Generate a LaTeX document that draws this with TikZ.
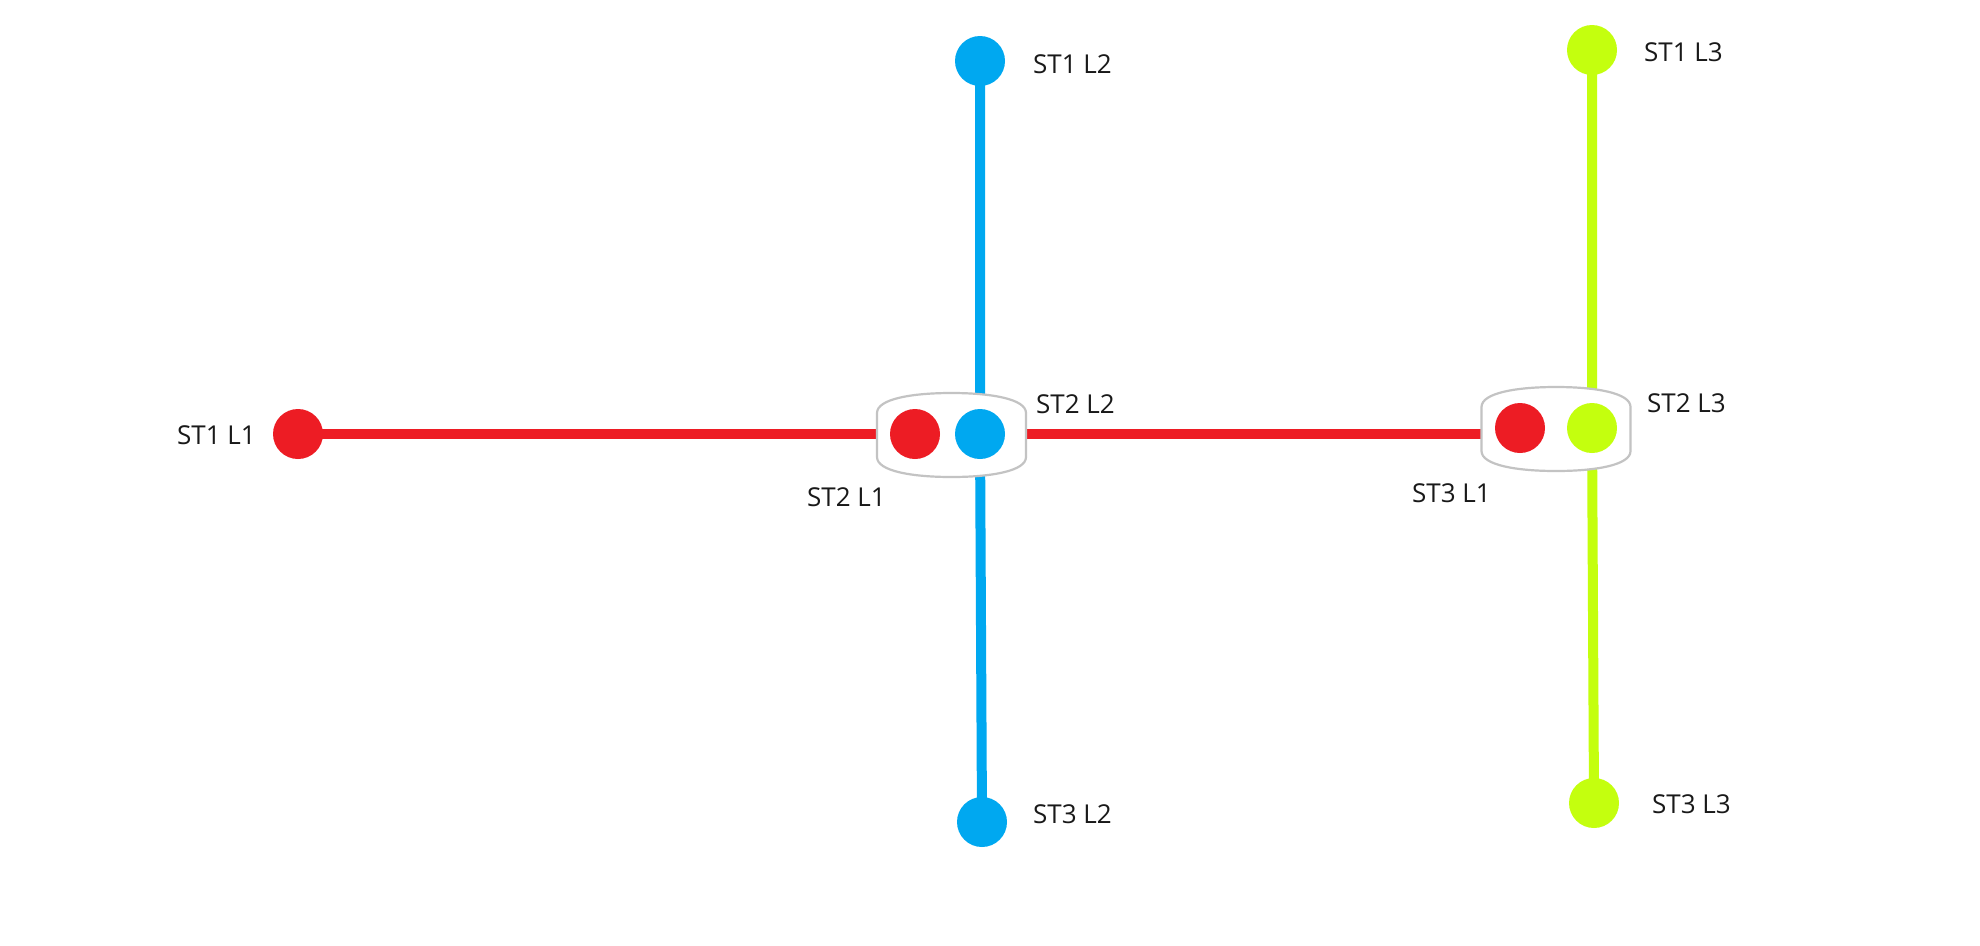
\documentclass[tikz,border=0pt]{standalone}
\usepackage{fontspec}
\setmainfont{Open Sans}
\definecolor{lred}{HTML}{ED1C24}
\definecolor{lblue}{HTML}{00A8F0}
\definecolor{lgreen}{HTML}{C4FF0E}
\definecolor{boxgray}{HTML}{C3C3C3}
\pgfdeclarelayer{back}
\pgfdeclarelayer{bg}
\pgfsetlayers{back,bg,main}
\tikzset{
  stn/.style={circle, minimum size=50pt, inner sep=0pt, draw=none},
  lbl/.style={anchor=base west, inner sep=0pt, text=black!90, font=\fontsize{26}{30}\selectfont},
  linew/.style={line width=10pt},
  ixbox/.pic={
    \draw[boxgray, line width=2.2pt, fill=white]
      (-74.5,-22) -- (-74.5,22) .. controls (-74.5,36) and (-40,42) .. (0,42)
      .. controls (40,42) and (74.5,36) .. (74.5,22) -- (74.5,-22)
      .. controls (74.5,-36) and (40,-42) .. (0,-42)
      .. controls (-40,-42) and (-74.5,-36) .. (-74.5,-22) -- cycle;
  }
}
\begin{document}
\begin{tikzpicture}[x=1pt,y=-1pt]
\begin{pgfonlayer}{back}
\fill[white] (0,0) rectangle (1980,945);
\end{pgfonlayer}
\useasboundingbox (0,0) rectangle (1980,945);
% interchange boxes
\pic at (951.5,435) {ixbox};
\pic at (1556,429) {ixbox};
% stations
\node[stn, fill=lred] (st1l1) at (298,434) {};
\node[stn, fill=lred] (st2l1) at (915,434) {};
\node[stn, fill=lred] (st3l1) at (1520,428) {};
\node[stn, fill=lblue] (st1l2) at (980,61) {};
\node[stn, fill=lblue] (st2l2) at (980,434) {};
\node[stn, fill=lblue] (st3l2) at (982,822) {};
\node[stn, fill=lgreen] (st1l3) at (1592,50) {};
\node[stn, fill=lgreen] (st2l3) at (1592,428) {};
\node[stn, fill=lgreen] (st3l3) at (1594,803) {};
% lines
\begin{pgfonlayer}{bg}
\draw[linew, lred] (st1l1.center) -- (st2l1.center) -- (st3l1.center |- st2l1.center);
\draw[linew, lblue] (st1l2.center) -- (st2l2.center) -- (st3l2.center);
\draw[linew, lgreen] (st1l3.center) -- (st2l3.center) -- (st3l3.center);
\end{pgfonlayer}
% labels
\node[lbl] (t11) at (177,444) {ST1 L1};
\node[lbl] (t12) at (1033,73) {ST1 L2};
\node[lbl] (t13) at (1644,61) {ST1 L3};
\node[lbl] (t21) at (807,506) {ST2 L1};
\node[lbl] (t22) at (1036,413) {ST2 L2};
\node[lbl] (t23) at (1647,412) {ST2 L3};
\node[lbl] (t31) at (1412,502) {ST3 L1};
\node[lbl] (t32) at (1033,823) {ST3 L2};
\node[lbl] (t33) at (1652,813) {ST3 L3};
\end{tikzpicture}
\end{document}
